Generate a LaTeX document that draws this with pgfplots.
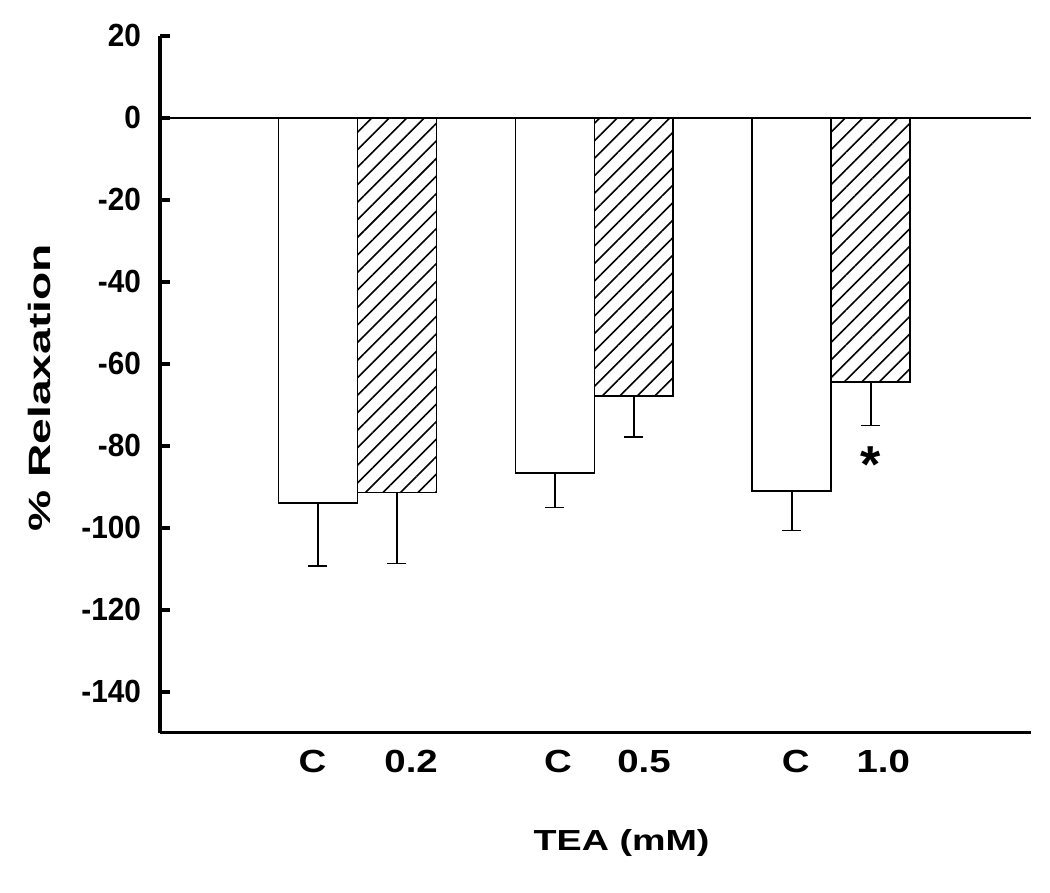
\documentclass[border=0pt]{standalone}
\usepackage{fontspec}
\setmainfont{Liberation Sans}
\newfontfamily\ytickfont[FakeStretch=0.93]{Liberation Sans}
\newfontfamily\xtickfont[FakeStretch=1.2]{Liberation Sans}
\newfontfamily\xlabfont[FakeStretch=1.3]{Liberation Sans}
\newfontfamily\ylabfont[FakeStretch=1.5]{Liberation Sans}
\usepackage{pgfplots}
\pgfplotsset{compat=1.18}
\usetikzlibrary{patterns.meta}

% mean and SEM (one-sided, downward)
\pgfplotstableread{
x   y      err
2   -94.0  15.4
5   -86.6  8.5
8   -91.1  9.6
}\control
\pgfplotstableread{
x   y      err
3   -91.4  17.3
6   -67.8  10.0
9   -64.4  10.7
}\tea

\begin{document}
\begin{tikzpicture}
\useasboundingbox (-80pt,-80.15pt) rectangle (445pt,366.35pt);
\begin{axis}[
    at={(0pt,0pt)}, anchor=south west,
    scale only axis,
    width=435.5pt, height=348.4pt,
    xmin=0, xmax=11.03,
    ymin=-150, ymax=20,
    axis lines*=left,
    axis line style={line width=1.8pt},
    ytick={-140,-120,-100,-80,-60,-40,-20,0,20},
    yticklabels={-140,-120,-100,-80,-60,-40,-20,0,20},
    tick align=inside,
    major tick length=5pt,
    y tick style={line width=1.8pt, black},
    xtick={1.93,3.18,5.04,6.13,8.05,9.16},
    xticklabels={C,0.2,C,0.5,C,1.0},
    x tick style={draw=none},
    yticklabel style={font=\fontsize{16}{19}\ytickfont\bfseries, xshift=-6pt},
    xticklabel style={font=\fontsize{16}{19}\xtickfont\bfseries, yshift=-5pt},
    xlabel={TEA (mM)},
    ylabel={\% Relaxation},
    xlabel style={font=\fontsize{14.5}{17}\xlabfont\bfseries,
        at={(axis description cs:0.530,-0.158)}, anchor=center},
    ylabel style={font=\fontsize{15.4}{18}\ylabfont\bfseries,
        at={(axis description cs:-0.1378,0.495)}, anchor=center},
    bar width=1,
    clip=false,
]
\addplot[ybar, bar shift=0pt, fill=white, draw=black, line width=0.8pt,
    error bars/.cd, y dir=minus, y explicit,
    error bar style={line width=0.8pt, black},
    error mark options={rotate=90, mark size=4.75pt, line width=0.8pt, black}]
    table[x=x, y=y, y error=err] {\control};
\addplot[ybar, bar shift=0pt, fill=white, draw=black, line width=0.8pt,
    pattern={Lines[angle=45, distance=6.2pt, line width=0.8pt]},
    error bars/.cd, y dir=minus, y explicit,
    error bar style={line width=0.8pt, black},
    error mark options={rotate=90, mark size=4.75pt, line width=0.8pt, black}]
    table[x=x, y=y, y error=err] {\tea};
\addplot[sharp plot, black, line width=0.8pt, mark=none] coordinates {(0,0) (11.03,0)};
\node[font=\fontsize{26}{30}\selectfont\bfseries, anchor=center] at (axis cs:9.0,-84.7) {*};
\end{axis}
\end{tikzpicture}
\end{document}
